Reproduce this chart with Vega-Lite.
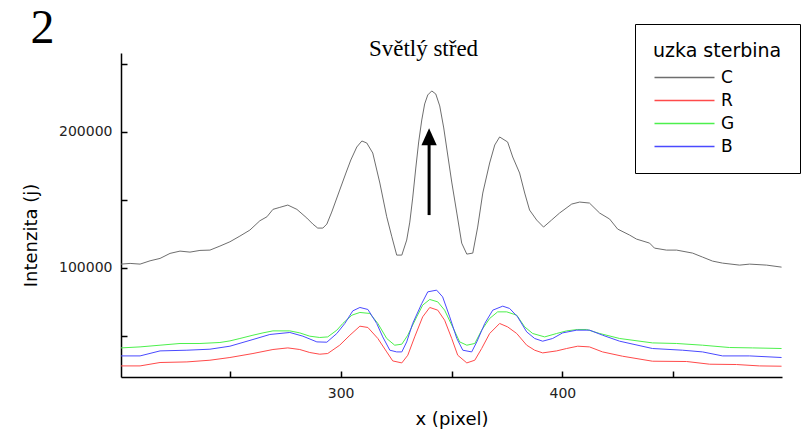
{
  "$schema": "https://vega.github.io/schema/vega-lite/v6.json",
  "width": 661,
  "height": 324,
  "autosize": {"type": "none"},
  "padding": {"left": 121, "top": 53, "right": 21, "bottom": 53},
  "background": "white",
  "title": {"text": "Světlý střed", "font": "Liberation Serif", "fontSize": 23, "fontWeight": "normal", "color": "black", "anchor": "middle", "frame": "group", "dx": -28, "offset": -74, "baseline": "alphabetic"},
  "config": {"view": {"stroke": null}},
  "datasets": {
    "curves": [
      {"s":"C","x":201,"y":102720},{"s":"C","x":205.1,"y":103240},{"s":"C","x":209.6,"y":102720},{"s":"C","x":214.1,"y":105150},{"s":"C","x":218.6,"y":106910},{"s":"C","x":223.1,"y":110590},{"s":"C","x":227.6,"y":112280},{"s":"C","x":232.1,"y":111540},{"s":"C","x":236.6,"y":112790},{"s":"C","x":241.1,"y":113010},{"s":"C","x":245.6,"y":115960},{"s":"C","x":250.1,"y":119120},{"s":"C","x":254.6,"y":123310},{"s":"C","x":259.1,"y":127720},{"s":"C","x":263.6,"y":134560},{"s":"C","x":266.8,"y":137500},{"s":"C","x":269.5,"y":142940},{"s":"C","x":272.6,"y":144410},{"s":"C","x":276.2,"y":146100},{"s":"C","x":280.3,"y":142940},{"s":"C","x":284.8,"y":136540},{"s":"C","x":287.5,"y":132130},{"s":"C","x":289.7,"y":129190},{"s":"C","x":292.0,"y":129190},{"s":"C","x":293.8,"y":132130},{"s":"C","x":296.0,"y":140960},{"s":"C","x":299.6,"y":157130},{"s":"C","x":302.4,"y":169630},{"s":"C","x":304.6,"y":179190},{"s":"C","x":307.3,"y":188750},{"s":"C","x":309.6,"y":193160},{"s":"C","x":311.8,"y":191690},{"s":"C","x":314.5,"y":184340},{"s":"C","x":317.7,"y":162280},{"s":"C","x":320.8,"y":137500},{"s":"C","x":323.1,"y":122790},{"s":"C","x":325.3,"y":109340},{"s":"C","x":327.6,"y":109340},{"s":"C","x":329.8,"y":120370},{"s":"C","x":331.2,"y":133600},{"s":"C","x":332.5,"y":151250},{"s":"C","x":333.9,"y":173310},{"s":"C","x":335.2,"y":192430},{"s":"C","x":336.6,"y":208610},{"s":"C","x":337.9,"y":220370},{"s":"C","x":339.3,"y":226990},{"s":"C","x":341.1,"y":229930},{"s":"C","x":342.9,"y":227720},{"s":"C","x":344.7,"y":218900},{"s":"C","x":346.5,"y":202720},{"s":"C","x":348.3,"y":182870},{"s":"C","x":350.1,"y":163020},{"s":"C","x":352.4,"y":140220},{"s":"C","x":354.6,"y":118160},{"s":"C","x":356.9,"y":110070},{"s":"C","x":359.6,"y":110810},{"s":"C","x":361.8,"y":129930},{"s":"C","x":364.1,"y":154930},{"s":"C","x":367.2,"y":176990},{"s":"C","x":369.5,"y":190230},{"s":"C","x":371.7,"y":196110},{"s":"C","x":375.3,"y":192430},{"s":"C","x":377.6,"y":181400},{"s":"C","x":380.7,"y":169630},{"s":"C","x":383.0,"y":154930},{"s":"C","x":385.2,"y":142430},{"s":"C","x":388.4,"y":135080},{"s":"C","x":391.5,"y":129930},{"s":"C","x":395.1,"y":135080},{"s":"C","x":398.7,"y":140220},{"s":"C","x":404.2,"y":146840},{"s":"C","x":407.8,"y":148310},{"s":"C","x":412.2,"y":147580},{"s":"C","x":416.8,"y":140220},{"s":"C","x":421.3,"y":135810},{"s":"C","x":424.9,"y":128460},{"s":"C","x":430.3,"y":124050},{"s":"C","x":433.4,"y":121110},{"s":"C","x":439.3,"y":118160},{"s":"C","x":441.5,"y":114490},{"s":"C","x":446.9,"y":113010},{"s":"C","x":451.5,"y":113010},{"s":"C","x":458.7,"y":110810},{"s":"C","x":463.2,"y":107870},{"s":"C","x":467.7,"y":104930},{"s":"C","x":472.2,"y":103460},{"s":"C","x":479.9,"y":101990},{"s":"C","x":484.4,"y":102720},{"s":"C","x":492.1,"y":101990},{"s":"C","x":498.8,"y":100510},
      {"s":"R","x":201,"y":27940},{"s":"R","x":209.6,"y":27940},{"s":"R","x":218.6,"y":30440},{"s":"R","x":230.7,"y":30880},{"s":"R","x":241.1,"y":32130},{"s":"R","x":250.1,"y":34120},{"s":"R","x":260.5,"y":37060},{"s":"R","x":269.5,"y":40000},{"s":"R","x":276.2,"y":41180},{"s":"R","x":281.6,"y":40000},{"s":"R","x":286.1,"y":37790},{"s":"R","x":290.6,"y":36540},{"s":"R","x":294.2,"y":37060},{"s":"R","x":299.6,"y":43160},{"s":"R","x":304.2,"y":50510},{"s":"R","x":308.7,"y":57130},{"s":"R","x":312.3,"y":56180},{"s":"R","x":316.8,"y":48090},{"s":"R","x":320.8,"y":38230},{"s":"R","x":323.5,"y":31620},{"s":"R","x":327.6,"y":30150},{"s":"R","x":330.3,"y":35810},{"s":"R","x":333.4,"y":49260},{"s":"R","x":337.0,"y":63970},{"s":"R","x":340.2,"y":70880},{"s":"R","x":343.8,"y":68900},{"s":"R","x":346.9,"y":61540},{"s":"R","x":350.1,"y":48090},{"s":"R","x":352.8,"y":35810},{"s":"R","x":356.9,"y":30150},{"s":"R","x":360.5,"y":32130},{"s":"R","x":363.6,"y":40730},{"s":"R","x":367.2,"y":51760},{"s":"R","x":371.7,"y":59120},{"s":"R","x":375.3,"y":56620},{"s":"R","x":379.4,"y":51760},{"s":"R","x":383.9,"y":43160},{"s":"R","x":387.5,"y":39480},{"s":"R","x":391.1,"y":37500},{"s":"R","x":397.4,"y":38970},{"s":"R","x":401.9,"y":40730},{"s":"R","x":406.9,"y":42430},{"s":"R","x":412.2,"y":41910},{"s":"R","x":418.1,"y":38230},{"s":"R","x":427.1,"y":35070},{"s":"R","x":440.6,"y":31400},{"s":"R","x":456.0,"y":31180},{"s":"R","x":466.4,"y":29190},{"s":"R","x":478.5,"y":28970},{"s":"R","x":488.8,"y":27940},{"s":"R","x":498.8,"y":27720},
      {"s":"G","x":201,"y":41180},{"s":"G","x":209.6,"y":41910},{"s":"G","x":218.6,"y":43160},{"s":"G","x":227.6,"y":44410},{"s":"G","x":236.6,"y":44410},{"s":"G","x":245.6,"y":45150},{"s":"G","x":250.1,"y":46320},{"s":"G","x":254.6,"y":48090},{"s":"G","x":260.5,"y":50510},{"s":"G","x":265.0,"y":52210},{"s":"G","x":269.5,"y":53680},{"s":"G","x":277.1,"y":53680},{"s":"G","x":281.6,"y":52210},{"s":"G","x":286.1,"y":49780},{"s":"G","x":290.6,"y":48820},{"s":"G","x":294.2,"y":49260},{"s":"G","x":298.3,"y":54190},{"s":"G","x":301.0,"y":59120},{"s":"G","x":305.1,"y":65220},{"s":"G","x":308.7,"y":67210},{"s":"G","x":313.2,"y":66470},{"s":"G","x":316.8,"y":59120},{"s":"G","x":320.8,"y":48090},{"s":"G","x":324.4,"y":43160},{"s":"G","x":327.6,"y":43900},{"s":"G","x":330.3,"y":50510},{"s":"G","x":334.3,"y":63970},{"s":"G","x":337.0,"y":72570},{"s":"G","x":340.2,"y":76760},{"s":"G","x":343.8,"y":75000},{"s":"G","x":346.9,"y":68900},{"s":"G","x":350.5,"y":56620},{"s":"G","x":353.7,"y":45590},{"s":"G","x":356.9,"y":43160},{"s":"G","x":360.5,"y":44410},{"s":"G","x":363.6,"y":54190},{"s":"G","x":367.2,"y":62790},{"s":"G","x":370.8,"y":67650},{"s":"G","x":374.9,"y":67650},{"s":"G","x":379.4,"y":65220},{"s":"G","x":383.0,"y":56620},{"s":"G","x":386.6,"y":51760},{"s":"G","x":392.0,"y":49260},{"s":"G","x":397.4,"y":51760},{"s":"G","x":401.9,"y":53680},{"s":"G","x":406.9,"y":54710},{"s":"G","x":410.9,"y":54710},{"s":"G","x":416.8,"y":51760},{"s":"G","x":425.8,"y":48090},{"s":"G","x":440.6,"y":44850},{"s":"G","x":451.5,"y":44410},{"s":"G","x":463.2,"y":43160},{"s":"G","x":475.3,"y":41470},{"s":"G","x":485.7,"y":41180},{"s":"G","x":498.8,"y":40730},
      {"s":"B","x":201,"y":35290},{"s":"B","x":209.6,"y":35290},{"s":"B","x":218.6,"y":38970},{"s":"B","x":230.7,"y":39480},{"s":"B","x":241.1,"y":40220},{"s":"B","x":250.1,"y":42430},{"s":"B","x":260.5,"y":47350},{"s":"B","x":268.1,"y":51030},{"s":"B","x":277.1,"y":52500},{"s":"B","x":283.0,"y":49780},{"s":"B","x":289.3,"y":45590},{"s":"B","x":293.8,"y":45370},{"s":"B","x":298.3,"y":51760},{"s":"B","x":301.9,"y":59120},{"s":"B","x":305.5,"y":68380},{"s":"B","x":308.7,"y":70880},{"s":"B","x":312.3,"y":69410},{"s":"B","x":316.3,"y":59120},{"s":"B","x":319.0,"y":49260},{"s":"B","x":322.2,"y":39480},{"s":"B","x":325.3,"y":38230},{"s":"B","x":327.6,"y":38230},{"s":"B","x":329.8,"y":45590},{"s":"B","x":332.5,"y":59120},{"s":"B","x":336.6,"y":73820},{"s":"B","x":339.3,"y":82350},{"s":"B","x":343.3,"y":83600},{"s":"B","x":346.0,"y":78680},{"s":"B","x":349.2,"y":63970},{"s":"B","x":352.4,"y":48090},{"s":"B","x":355.1,"y":39480},{"s":"B","x":359.1,"y":38230},{"s":"B","x":361.4,"y":45590},{"s":"B","x":365.0,"y":59120},{"s":"B","x":368.6,"y":68900},{"s":"B","x":373.1,"y":71840},{"s":"B","x":376.2,"y":70150},{"s":"B","x":379.8,"y":63970},{"s":"B","x":383.9,"y":52940},{"s":"B","x":387.5,"y":48090},{"s":"B","x":391.1,"y":46100},{"s":"B","x":395.6,"y":48090},{"s":"B","x":400.1,"y":52210},{"s":"B","x":406.4,"y":54190},{"s":"B","x":412.3,"y":54190},{"s":"B","x":418.1,"y":50510},{"s":"B","x":425.8,"y":46100},{"s":"B","x":440.6,"y":40730},{"s":"B","x":454.2,"y":39480},{"s":"B","x":463.2,"y":38230},{"s":"B","x":472.2,"y":35290},{"s":"B","x":484.4,"y":35290},{"s":"B","x":498.8,"y":34120}
    ],
    "arrow": [{"x": 339.9, "y": 138750, "y2": 190220}],
    "arrowhead": [{"x": 339.9, "y": 196330}],
    "label": [{"x": 165.6, "y": 265400, "t": "2"}]
  },
  "encoding": {
    "x": {"field": "x", "type": "quantitative",
      "scale": {"domain": [201, 499], "nice": false, "zero": false},
      "axis": {"title": "x (pixel)", "values": [250, 300, 350, 400, 450], "format": "d",
        "labelExpr": "datum.value == 300 || datum.value == 400 ? datum.label : ''",
        "grid": false, "tickSize": -6, "tickWidth": 1.5, "tickColor": "black", "domainColor": "black", "domainWidth": 1.5,
        "labelFont": "DejaVu Sans", "labelFontSize": 14, "labelColor": "#222", "labelPadding": 15, "labelFlush": false,
        "titleFont": "DejaVu Sans", "titleFontSize": 18, "titleFontWeight": "normal", "titleColor": "black", "titlePadding": 10}},
    "y": {"field": "y", "type": "quantitative",
      "scale": {"domain": [19800, 257800], "nice": false, "zero": false},
      "axis": {"title": "Intenzita (j)", "values": [50000, 100000, 150000, 200000, 250000], "format": "d",
        "labelExpr": "datum.value == 100000 || datum.value == 200000 ? datum.label : ''",
        "grid": false, "tickSize": -6, "tickWidth": 1.5, "tickColor": "black", "domainColor": "black", "domainWidth": 1.5,
        "labelFont": "DejaVu Sans", "labelFontSize": 14, "labelColor": "#222", "labelPadding": 15, "labelFlush": false,
        "titleFont": "DejaVu Sans", "titleFontSize": 18, "titleFontWeight": "normal", "titleColor": "black",
        "titleAngle": 270, "titleAlign": "center", "titleBaseline": "bottom", "titleX": -81, "titleY": 182}}
  },
  "layer": [
    {"data": {"name": "curves"},
     "mark": {"type": "line", "strokeWidth": 1},
     "encoding": {
       "color": {"field": "s", "type": "nominal",
         "scale": {"domain": ["C", "R", "G", "B"], "range": ["#6e6e6e", "#ff4a4a", "#4cf04c", "#4a4aff"]},
         "legend": {"title": "uzka sterbina", "orient": "none", "legendX": 514, "legendY": -29,
           "titleFont": "DejaVu Sans", "titleFontSize": 19, "titleFontWeight": "normal", "titleColor": "black",
           "labelFont": "DejaVu Sans", "labelFontSize": 17, "labelColor": "black",
           "symbolType": "M-5,0L5,0", "symbolSize": 144, "symbolStrokeWidth": 1.5, "symbolOffset": 23,
           "strokeColor": "black", "fillColor": "white", "padding": 18, "labelOffset": 28, "rowPadding": 5, "titlePadding": 8}}
     }},
    {"data": {"name": "arrow"},
     "mark": {"type": "rule", "strokeWidth": 3, "color": "black"},
     "encoding": {"y2": {"field": "y2"}}},
    {"data": {"name": "arrowhead"},
     "mark": {"type": "point", "shape": "M-0.9,1L0.9,1L0,-1Z", "size": 289, "filled": true, "color": "black", "opacity": 1}},
    {"data": {"name": "label"},
     "mark": {"type": "text", "font": "Liberation Serif", "fontSize": 48, "align": "center", "baseline": "alphabetic", "color": "black"},
     "encoding": {"text": {"field": "t"}}}
  ]
}
